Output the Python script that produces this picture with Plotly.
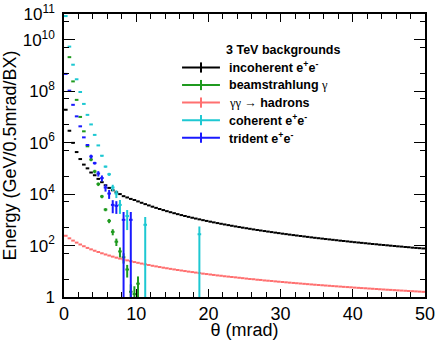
import numpy as np
import plotly.graph_objects as go

bin_width = 0.5
n_bins = 100
theta = np.arange(n_bins) * bin_width + bin_width / 2

incoherent = [
    1.9e7, 2.9e6, 9.8e5, 4.3e5, 2.3e5, 1.4e5, 1.0e5, 6.9e4, 5.4e4, 3.9e4,
    2.9e4, 2.2e4, 1.74e4, 1.41e4, 1.17e4, 1.0e4, 8300, 7400, 6500, 5900,
    5200, 4600, 4070, 3630, 3245, 2916, 2632, 2386, 2168, 1977,
    1809, 1659, 1526, 1408, 1302, 1206, 1120, 1042, 971, 907,
    848, 795, 746, 701, 660, 622, 587, 554, 524, 496,
    471, 447, 424, 403, 384, 366, 349, 333, 318, 304,
    290, 278, 266, 255, 245, 235, 226, 217, 208, 200,
    193, 186, 179, 173, 167, 161, 155, 150, 145, 140,
    135, 131, 127, 123, 119, 115, 112, 108, 105, 102,
    99, 96, 93, 91, 88, 86, 83, 81, 79, 77,
]

hadrons = [
    240, 191, 156, 130, 110, 94, 81, 71, 63, 56,
    50, 45, 40.8, 37.1, 33.9, 31.1, 28.7, 26.5, 24.6, 22.8,
    21.3, 19.9, 18.6, 17.5, 16.4, 15.5, 14.6, 13.8, 13.1, 12.4,
    11.8, 11.2, 10.7, 10.2, 9.7, 9.3, 8.9, 8.5, 8.1, 7.8,
    7.5, 7.2, 6.9, 6.7, 6.4, 6.2, 6.0, 5.8, 5.6, 5.4,
    5.2, 5.0, 4.9, 4.7, 4.6, 4.4, 4.3, 4.2, 4.05, 3.94,
    3.83, 3.72, 3.62, 3.52, 3.43, 3.34, 3.25, 3.16, 3.08, 3.00,
    2.93, 2.86, 2.79, 2.73, 2.66, 2.60, 2.54, 2.48, 2.43, 2.38,
    2.32, 2.27, 2.22, 2.18, 2.13, 2.09, 2.04, 2.00, 1.96, 1.92,
    1.89, 1.85, 1.81, 1.78, 1.75, 1.71, 1.68, 1.65, 1.62, 1.59,
]

beamstrahlung = [None, 2.1e9, 2.4e8, 4.6e7, 1.0e7, 2.75e6, 7.2e5, 2.2e5, 7.6e4, 2.45e4,
                 8.1e3, 2.5e3, 910, 340, 141, 59, 35, 11.7, 1.6, 1.3, 3.3]
beamstrahlung_err = [0, 0, 0, 0, 0, 0, 0, 3e4, 1.2e4, 4e3,
                     1.2e3, 350, 170, 90, 45, 25, 15, 6, 1.5, 1.3, 3]

coherent = [8.3e10, 5.4e9, 1.07e9, 2.9e8, 9.3e7, 3.2e7, 1.2e7, 5.1e6, 2.0e6, 7.8e5,
            3.1e5, 1.17e5, 5.9e4, 1.8e4, 1.05e4, 3.8e3, None, 1400, None, None,
            None, None, 640, None, None, None, None, None, None, None,
            None, None, None, None, None, None, None, 275]
coherent_err = [0, 0, 0, 0, 0, 0, 0, 0, 0, 0,
                2e4, 1e4, 8e3, 5e3, 3.5e3, 2100, 0, 1000, 0, 0,
                0, 0, 640, 0, 0, 0, 0, 0, 0, 0,
                0, 0, 0, 0, 0, 0, 0, 275]

trident = [4.7e8, 1.05e8, 2.95e7, 1.05e7, 4.3e6, 1.6e6, 8.1e5, 2.9e5, 1.6e5, 6.3e4,
           4.2e4, 1.8e4, 1.05e4, 3.8e3, 3.5e3, None, 1000, None, 1000]
trident_err = [0, 0, 0, 0, 0, 0, 0, 5e4, 2e4, 1.5e4,
               1.1e4, 5.5e3, 4e3, 2e3, 1.8e3, 0, 1000, 0, 1000]

series = [
    ("incoherent", incoherent, None, "#000000"),
    ("beamstrahlung", beamstrahlung, beamstrahlung_err, "#1f9a1f"),
    ("hadrons", hadrons, None, "#ff7070"),
    ("coherent", coherent, coherent_err, "#1ec8d2"),
    ("trident", trident, trident_err, "#1a1aff"),
]

fig = go.Figure()
for name, vals, errs, col in series:
    n = len(vals)
    ey = dict(type="data", array=errs, width=0, thickness=2, color=col, visible=True) if errs else dict(visible=False)
    fig.add_trace(go.Scatter(
        x=theta[:n], y=vals, mode="markers", name=name,
        marker=dict(size=1, color=col),
        error_x=dict(type="constant", value=bin_width / 2, width=0, thickness=2, color=col),
        error_y=ey, showlegend=False, hoverinfo="skip",
    ))

# legend (ROOT style)
serif = "font-family:'Liberation Serif','DejaVu Serif';font-weight:normal"
legend_title = "<b>3 TeV backgrounds</b>"
legend_labels = [
    "<b>incoherent e<sup>+</sup>e<sup>-</sup></b>",
    f"<b>beamstrahlung</b> <span style=\"{serif}\">γ</span>",
    f"<span style=\"{serif}\">γγ →</span> <b>hadrons</b>",
    "<b>coherent e<sup>+</sup>e<sup>-</sup></b>",
    "<b>trident e<sup>+</sup>e<sup>-</sup></b>",
]
legend_colors = [s[3] for s in series]
x_line0, x_line1, x_tick, x_text = 0.327, 0.432, 0.3795, 0.452
y_title = 0.873
y_rows = [0.811, 0.749, 0.687, 0.625, 0.563]
fig.add_annotation(x=x_text - 0.008, y=y_title, xref="paper", yref="paper", text=legend_title,
                   showarrow=False, xanchor="left", yanchor="middle", font=dict(size=12.5))
for lab, col, yy in zip(legend_labels, legend_colors, y_rows):
    fig.add_shape(type="line", xref="paper", yref="paper", x0=x_line0, x1=x_line1, y0=yy, y1=yy,
                  line=dict(color=col, width=2))
    fig.add_shape(type="line", xref="paper", yref="paper", x0=x_tick, x1=x_tick, y0=yy - 0.018, y1=yy + 0.018,
                  line=dict(color=col, width=2))
    fig.add_annotation(x=x_text, y=yy, xref="paper", yref="paper", text=lab, showarrow=False,
                       xanchor="left", yanchor="middle", font=dict(size=12.5))

y_labeled = [1, 1e2, 1e4, 1e6, 1e8, 1e10, 1e11]
y_text = ["1", "10<sup>2</sup>", "10<sup>4</sup>", "10<sup>6</sup>",
          "10<sup>8</sup>", "10<sup>10</sup>", "10<sup>11</sup>"]
y_unlabeled = [1e1, 1e3, 1e5, 1e7, 1e9]
y_minor = [5 * 10 ** i for i in range(11)]

fig.update_layout(
    width=436, height=340,
    margin=dict(l=64, r=11, t=14, b=43),
    plot_bgcolor="white", paper_bgcolor="white",
    showlegend=False,
    font=dict(family="Liberation Sans, Arial, sans-serif", color="black"),
    yaxis2=dict(
        type="log", range=[0, 11], overlaying="y", side="left", tickmode="array",
        tickvals=y_unlabeled, showticklabels=False, ticks="inside", ticklen=11,
        tickwidth=1, tickcolor="black", showline=True, linecolor="black", linewidth=1.5,
        mirror="ticks", showgrid=False, zeroline=False,
    ),
)
fig.update_xaxes(
    range=[0, 50], tickmode="linear", tick0=0, dtick=10,
    ticks="inside", ticklen=8, tickwidth=1, tickcolor="black",
    minor=dict(dtick=2, ticklen=5, ticks="inside", tickcolor="black", tickwidth=1),
    showline=True, linecolor="black", linewidth=1.5, mirror="ticks",
    showgrid=False, zeroline=False, automargin=False,
    tickfont=dict(size=18),
    title=dict(text="θ (mrad)", font=dict(size=18), standoff=6),
)
fig.update_yaxes(
    selector=dict(anchor="x"),
)
fig.layout.yaxis.update(
    type="log", range=[0, 11], tickmode="array", tickvals=y_labeled, ticktext=y_text,
    ticks="inside", ticklen=11, tickwidth=1, tickcolor="black",
    minor=dict(tickmode="array", tickvals=y_minor, ticklen=5, ticks="inside", tickcolor="black", tickwidth=1),
    showline=True, linecolor="black", linewidth=1.5, mirror="ticks",
    showgrid=False, zeroline=False, automargin=False,
    tickfont=dict(size=17), ticklabelstandoff=4,
    title=dict(text="Energy (GeV/0.5mrad/BX)", font=dict(size=18), standoff=4),
)

fig.write_html("out.html")
